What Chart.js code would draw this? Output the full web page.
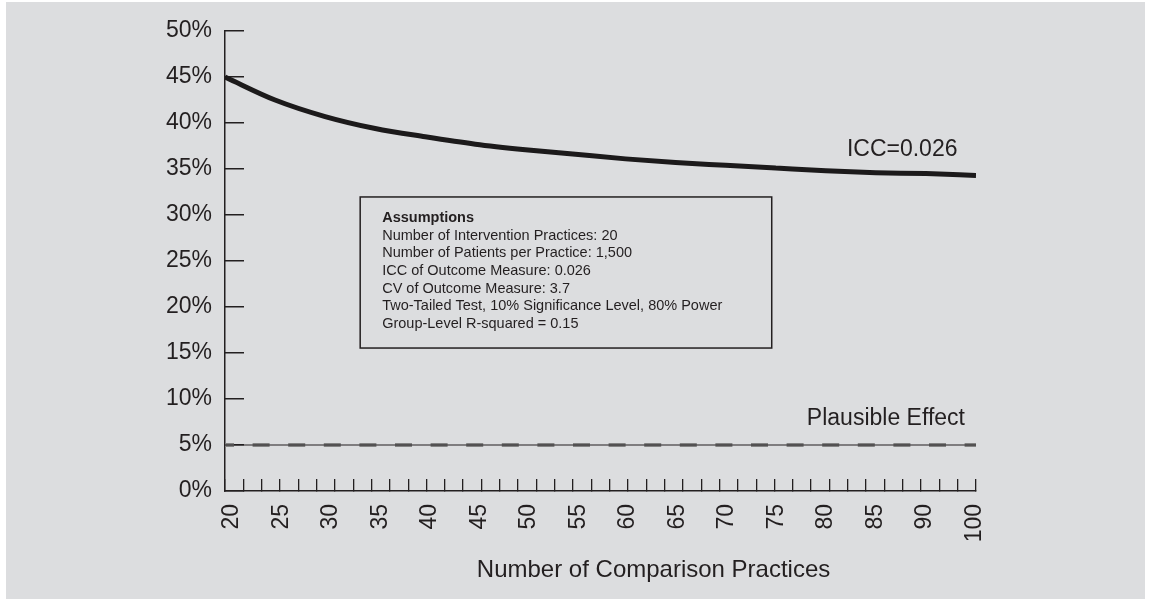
<!DOCTYPE html>
<html>
<head>
<meta charset="utf-8">
<script src="https://cdn.jsdelivr.net/npm/chart.js@4.4.1/dist/chart.umd.min.js"></script>
<style>
  html, body { margin: 0; padding: 0; background: #fff; }
</style>
</head>
<body>
<canvas id="chart" width="1151" height="603"></canvas>
<script>
/* =========================
   DATOS
========================= */
const categories = ["20", "25", "30", "35", "40", "45", "50", "55", "60", "65", "70", "75", "80", "85", "90", "100"];
const iccValues = [45.0, 42.5, 40.7, 39.4, 38.5, 37.7, 37.1, 36.6, 36.1, 35.7, 35.4, 35.1, 34.8, 34.6, 34.5, 34.3];
const effectValues = [5, 5, 5, 5, 5, 5, 5, 5, 5, 5, 5, 5, 5, 5, 5, 5];
const yTickValues = [0, 5, 10, 15, 20, 25, 30, 35, 40, 45, 50];
const assumptions = [
    "Number of Intervention Practices: 20",
    "Number of Patients per Practice: 1,500",
    "ICC of Outcome Measure: 0.026",
    "CV of Outcome Measure: 3.7",
    "Two-Tailed Test, 10% Significance Level, 80% Power",
    "Group-Level R-squared = 0.15"
];

const ink = "#231f20";
const panel = "#dcdddf";
const font = "'Liberation Sans', Arial, sans-serif";

Chart.defaults.font.family = font;
Chart.defaults.color = ink;

/* =========================
   FONDO
========================= */
const background = {
    id: "background",
    beforeDraw(chart) {
        const ctx = chart.ctx;
        ctx.save();
        ctx.fillStyle = "#fff";
        ctx.fillRect(0, 0, chart.width, chart.height);
        ctx.fillStyle = panel;
        ctx.fillRect(6, 2, chart.width - 12, chart.height - 6);
        ctx.restore();
    }
};

/* =========================
   TEXTOS Y CUADRO
========================= */
const notes = {
    id: "notes",
    afterDraw(chart) {
        const ctx = chart.ctx;
        const xs = chart.scales.x;
        const ys = chart.scales.y;
        ctx.save();
        ctx.fillStyle = ink;
        ctx.strokeStyle = ink;

        // labels
        ctx.font = "23px " + font;
        ctx.textAlign = "right";
        ctx.textBaseline = "alphabetic";
        ctx.fillText("ICC=0.026", xs.getPixelForValue(14.63), ys.getPixelForValue(36.4));
        ctx.fillText("Plausible Effect", xs.getPixelForValue(14.78), ys.getPixelForValue(7.2));

        // axis title
        ctx.font = "24px " + font;
        ctx.textAlign = "center";
        ctx.fillText("Number of Comparison Practices", xs.getPixelForValue(8.56), 577);

        // assumptions box
        const bx = xs.getPixelForValue(2.7);
        const by = ys.getPixelForValue(31.96);
        const bw = xs.getPixelForValue(10.92) - bx;
        const bh = ys.getPixelForValue(15.54) - by;
        ctx.lineWidth = 1.5;
        ctx.strokeRect(bx, by, bw, bh);

        ctx.textAlign = "left";
        ctx.font = "bold 14.5px " + font;
        ctx.fillText("Assumptions", bx + 22, by + 25);
        ctx.font = "14.5px " + font;
        assumptions.forEach((line, i) => {
            ctx.fillText(line, bx + 22, by + 25 + 17.7 * (i + 1));
        });
        ctx.restore();
    }
};

/* =========================
   GRAFICO
========================= */
new Chart(document.getElementById("chart"), {
    type: "line",
    data: {
        datasets: [{
            label: "ICC=0.026",
            data: iccValues.map((v, i) => ({ x: i, y: v })),
            borderColor: "#1c1a1b",
            borderWidth: 5,
            pointRadius: 0,
            cubicInterpolationMode: "monotone",
            fill: false
        }, {
            label: "Plausible Effect",
            data: effectValues.map((v, i) => ({ x: i, y: v })),
            borderColor: ink,
            borderWidth: 1.2,
            pointRadius: 0,
            fill: false
        }, {
            label: "Plausible Effect dashes",
            data: effectValues.map((v, i) => ({ x: i, y: v })),
            borderColor: "#848484",
            borderWidth: 4,
            borderDash: [17, 18.6],
            borderDashOffset: 8,
            pointRadius: 0,
            fill: false
        }]
    },
    options: {
        responsive: false,
        animation: false,
        layout: { padding: { top: 31, right: 175, bottom: 0, left: 0 } },
        plugins: {
            legend: { display: false },
            tooltip: { enabled: false }
        },
        scales: {
            x: {
                type: "linear",
                min: 0,
                max: 15,
                display: false
            },
            xTicks: {
                type: "linear",
                position: "bottom",
                weight: 0,
                min: 0,
                max: 41,
                afterFit: s => { s.height = 0; },
                ticks: { display: false, stepSize: 1 },
                grid: { drawOnChartArea: false, tickLength: -12, color: ink, lineWidth: 1.3 },
                border: { color: ink, width: 1.5 }
            },
            xLabels: {
                type: "linear",
                position: "bottom",
                weight: 1,
                min: -0.141,
                max: 15.031,
                afterBuildTicks: s => { s.ticks = categories.map((c, i) => ({ value: i })); },
                afterFit: s => { s.height = 112; },
                ticks: {
                    callback: v => categories[v],
                    autoSkip: false,
                    minRotation: 90,
                    maxRotation: 90,
                    padding: 13,
                    font: { size: 23 },
                    color: ink
                },
                grid: { display: false, drawTicks: false },
                border: { display: false }
            },
            y: {
                min: 0,
                max: 50,
                afterBuildTicks: s => { s.ticks = yTickValues.map(v => ({ value: v })); },
                afterFit: s => {
                    s.width = 225;
                    s.paddingTop = 0;
                    s.paddingBottom = 0;
                },
                ticks: {
                    callback: v => v + "%",
                    font: { size: 23 },
                    color: ink,
                    padding: 32
                },
                grid: { drawOnChartArea: false, tickLength: -19, color: ink, lineWidth: 1.5 },
                border: { color: ink, width: 1.5 }
            }
        }
    },
    plugins: [background, notes]
});
</script>
</body>
</html>
